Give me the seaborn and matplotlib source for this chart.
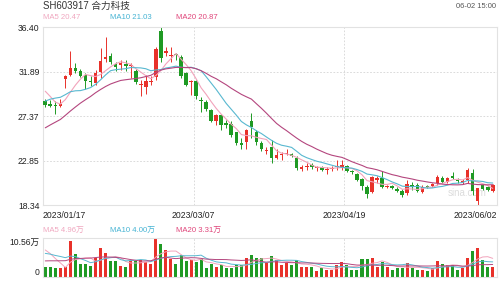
import numpy as np
import pandas as pd
import matplotlib
matplotlib.use("Agg")
import matplotlib.pyplot as plt
import seaborn as sns

# ---------------- data ----------------
title = "SH603917 合力科技"
stamp = "06-02 15:00"
price_ma_labels = ["MA5 20.47", "MA10 21.03", "MA20 20.87"]
vol_ma_labels = ["MA5 4.96万", "MA10 4.00万", "MA20 3.31万"]
date_labels = ["2023/01/17", "2023/03/07", "2023/04/19", "2023/06/02"]
price_ticks = [18.34, 22.85, 27.37, 31.89, 36.40]
price_tick_labels = ["18.34", "22.85", "27.37", "31.89", "36.40"]
vol_tick_labels = ["0", "10.56万"]
vol_max = 10.56
watermark = "sina.com"

opens = [28.87, 28.60, 28.53, 28.45, 31.10, 31.55, 32.25, 32.00, 31.55, 30.90,
         30.75, 31.90, 33.16, 33.50, 32.65, 32.60, 32.70, 32.45, 32.00, 30.50,
         30.35, 30.80, 31.30, 36.00, 33.80, 33.50, 33.65, 33.35, 31.75, 30.80,
         30.95, 29.05, 28.85, 28.00, 26.85, 27.50, 26.70, 26.60, 25.75, 24.65,
         24.80, 26.85, 25.75, 24.65, 23.90, 24.30, 23.15, 23.50, 23.55, 23.60,
         23.15, 22.05, 22.20, 22.45, 22.15, 22.20, 21.90, 22.00, 22.20, 22.25,
         22.35, 21.85, 21.55, 21.00, 20.20, 19.75, 20.95, 21.10, 20.20, 20.30,
         20.05, 19.85, 19.60, 20.45, 20.45, 19.70, 20.30, 20.30, 20.60, 21.15,
         20.75, 21.35, 20.95, 20.65, 20.95, 21.65, 18.80, 20.40, 20.25, 19.80]
highs = [29.14, 29.04, 28.93, 29.10, 31.55, 34.00, 32.75, 32.20, 31.70, 31.40,
         32.05, 34.30, 35.40, 33.80, 32.90, 33.10, 33.10, 32.80, 32.20, 31.00,
         31.50, 31.40, 34.40, 36.40, 34.40, 34.40, 33.80, 33.55, 31.90, 31.00,
         31.05, 29.30, 29.00, 28.15, 27.60, 27.65, 27.00, 26.85, 25.80, 25.15,
         26.10, 27.70, 25.95, 24.90, 24.30, 25.00, 24.10, 23.80, 24.10, 23.70,
         23.30, 22.45, 22.60, 22.60, 22.35, 22.35, 22.20, 22.30, 22.90, 22.95,
         22.45, 21.95, 21.65, 21.10, 20.40, 21.35, 21.35, 21.80, 20.45, 20.45,
         20.25, 20.00, 20.90, 20.75, 20.65, 20.40, 20.40, 20.60, 21.45, 21.30,
         21.25, 21.75, 21.10, 21.00, 22.10, 22.00, 20.15, 20.55, 20.35, 20.55]
lows = [28.33, 28.26, 27.58, 28.30, 30.20, 31.40, 31.74, 31.30, 30.10, 30.40,
        30.55, 31.20, 32.90, 32.70, 32.00, 32.10, 32.00, 31.20, 30.60, 29.45,
        29.60, 30.50, 31.00, 32.90, 33.50, 32.90, 33.10, 31.23, 30.40, 29.50,
        29.10, 27.80, 27.90, 26.80, 26.50, 26.00, 26.20, 25.30, 24.50, 24.05,
        24.05, 25.20, 24.50, 23.90, 23.60, 22.60, 23.00, 22.90, 23.45, 23.20,
        21.95, 21.80, 21.95, 22.00, 21.85, 21.80, 21.55, 21.85, 21.95, 21.95,
        21.70, 21.55, 20.80, 19.95, 19.10, 19.60, 20.60, 20.10, 20.10, 20.00,
        19.75, 19.20, 19.40, 19.95, 19.75, 19.60, 20.10, 20.20, 20.45, 20.60,
        20.60, 21.00, 20.60, 20.50, 20.60, 19.40, 18.34, 19.90, 19.80, 19.70]
closes = [28.53, 28.39, 28.39, 28.60, 31.40, 32.25, 31.97, 31.45, 30.95, 30.80,
          31.80, 33.00, 33.36, 32.90, 32.40, 32.75, 32.50, 32.55, 30.80, 30.60,
          30.95, 30.95, 34.20, 33.30, 33.95, 33.60, 33.55, 31.40, 30.55, 30.90,
          29.45, 28.95, 28.10, 26.85, 27.50, 26.50, 26.45, 25.50, 24.65, 24.50,
          26.00, 26.30, 24.75, 24.05, 24.00, 23.15, 23.45, 23.55, 23.65, 23.30,
          22.10, 22.20, 22.35, 22.20, 22.25, 21.95, 22.00, 22.15, 22.35, 22.45,
          21.80, 21.70, 20.95, 20.35, 19.50, 21.20, 21.10, 20.25, 20.30, 20.10,
          19.85, 19.40, 20.50, 20.20, 19.85, 20.25, 20.20, 20.50, 21.25, 20.75,
          21.10, 21.10, 20.80, 20.85, 21.95, 19.80, 20.10, 20.05, 19.95, 20.45]
volumes = [2.7, 2.7, 2.5, 2.5, 2.9, 9.7, 6.2, 3.5, 3.5, 3.1,
           5.1, 7.7, 6.4, 4.4, 4.4, 3.1, 2.9, 4.4, 4.4, 4.7,
           4.0, 3.5, 10.56, 8.8, 7.3, 4.9, 3.5, 6.0, 4.4, 4.7,
           4.2, 4.9, 2.5, 3.5, 2.9, 3.3, 2.5, 2.5, 3.2, 3.3,
           5.1, 6.0, 5.1, 5.1, 3.8, 5.8, 4.7, 3.2, 3.8, 3.2,
           4.7, 2.9, 2.9, 2.9, 1.8, 2.5, 2.0, 2.0, 3.3, 4.2,
           3.2, 2.0, 2.0, 4.9, 4.9, 5.1, 2.9, 4.2, 2.9, 1.9,
           2.5, 2.6, 3.8, 2.6, 2.0, 2.0, 1.8, 2.5, 4.4, 3.5,
           3.2, 3.2, 2.0, 2.5, 5.1, 7.0, 7.9, 4.7, 2.9, 2.9]
# sessions before the visible window (estimated so the moving averages start where drawn)
pre_closes = [22.5, 22.9, 23.1, 23.0, 23.5, 23.8, 23.6, 24.1, 24.3, 24.2,
              26.4, 27.3, 27.8, 28.7, 29.3, 31.05, 31.25, 29.6, 29.1]
pre_volumes = [2.1, 2.6, 2.3, 2.5, 2.2, 2.7, 2.4, 2.3, 2.5, 2.4,
               4.8, 5.9, 5.2, 6.1, 5.5, 7.5, 9.0, 8.3, 9.0]

# ---------------- style ----------------
sns.set_style("white")
plt.rcParams["font.family"] = ["Liberation Sans", "Noto Sans CJK SC"]

RED, GREEN = "#e8312a", "#1f9a24"
C5, C10, C20 = "#f2a3bb", "#58b8d0", "#b4467e"
T5, T10, T20 = "#f0a8c0", "#45b3d3", "#e0457a"
GRID = "#d4d4d4"
SPINE = "#e2e2e2"

n = len(closes)
df = pd.DataFrame({"i": np.arange(n), "open": opens, "high": highs,
                   "low": lows, "close": closes, "vol": volumes})
npre = len(pre_closes)
allc = pd.Series(pre_closes + closes)
allv = pd.Series(pre_volumes + volumes)
for w in (5, 10, 20):
    df[f"ma{w}"] = allc.rolling(w).mean().iloc[npre:].values
    df[f"vma{w}"] = allv.rolling(w).mean().iloc[npre:].values

up = df["close"] >= df["open"]
colors = np.where(up, RED, GREEN)

fig = plt.figure(figsize=(5, 2.81), dpi=100)
ax = fig.add_axes([0.086, 0.2687, 0.908, 0.635])
axv = fig.add_axes([0.086, 0.0125, 0.908, 0.1416])
XL = (-0.45, 89.85)

# ---- price panel ----
for y in price_ticks[1:-1]:
    ax.axhline(y, color=GRID, lw=0.6, ls=(0, (2, 2)), zorder=0)
for xg in (29.5, 59.5):
    ax.axvline(xg, color=GRID, lw=0.6, ls=(0, (2, 2)), zorder=0)
    axv.axvline(xg, color=GRID, lw=0.6, ls=(0, (2, 2)), zorder=0)

ax.vlines(df["i"], df["low"], df["high"], colors=colors, linewidth=0.7, zorder=2)
body_bottom = np.minimum(df["open"], df["close"])
body_h = np.maximum((df["close"] - df["open"]).abs(), 0.07)
ax.bar(df["i"], body_h, bottom=body_bottom, width=0.72, color=colors,
       linewidth=0, zorder=3)

sns.lineplot(data=df, x="i", y="ma5", ax=ax, color=C5, lw=0.8, zorder=4)
sns.lineplot(data=df, x="i", y="ma10", ax=ax, color=C10, lw=0.8, zorder=4)
sns.lineplot(data=df, x="i", y="ma20", ax=ax, color=C20, lw=0.8, zorder=4)

ax.set_xlim(*XL)
ax.set_ylim(price_ticks[0], price_ticks[-1])
ax.set_yticks(price_ticks)
ax.set_yticklabels(price_tick_labels, fontsize=6.2, color="#222222")
ax.set_xticks([XL[0], 29.5, 59.5, XL[1]])
ax.set_xticklabels(date_labels, fontsize=6.2, color="#222222")
for lab, ha in zip(ax.get_xticklabels(), ["left", "center", "center", "right"]):
    lab.set_ha(ha)
ax.tick_params(length=0, pad=2.5)
ax.tick_params(axis="x", pad=4)
ax.set_xlabel("")
ax.set_ylabel("")
for s in ax.spines.values():
    s.set_color(SPINE)
    s.set_linewidth(0.8)
ax.text(0.978, 0.07, watermark, transform=ax.transAxes, ha="right", va="center",
        fontsize=7, color="#dcdcdc", zorder=1)

# ---- volume panel ----
axv.bar(df["i"], df["vol"], width=0.6, color=colors, linewidth=0, zorder=2)
sns.lineplot(data=df, x="i", y="vma5", ax=axv, color=C5, lw=0.7, zorder=3)
sns.lineplot(data=df, x="i", y="vma10", ax=axv, color=C10, lw=0.7, zorder=3)
sns.lineplot(data=df, x="i", y="vma20", ax=axv, color=C20, lw=0.7, zorder=3)
axv.set_xlim(*XL)
axv.set_ylim(0, vol_max)
axv.set_xticks([])
axv.set_yticks([0, vol_max])
axv.set_yticklabels(vol_tick_labels, fontsize=6.2, color="#222222")
vl = axv.get_yticklabels()
vl[0].set_va("bottom")
vl[1].set_va("top")
axv.tick_params(length=0, pad=2.5)
axv.set_xlabel("")
axv.set_ylabel("")
for s in axv.spines.values():
    s.set_color(SPINE)
    s.set_linewidth(0.8)

# ---- header texts ----
def fy(py):
    return 1 - py / 281.0

fig.text(43 / 500, fy(6), title, fontsize=6.9, color="#333333", va="center", ha="left")
fig.text(496 / 500, fy(6), stamp, fontsize=5.4, color="#555555", va="center", ha="right")
for xpx, txt, col in zip([43, 110, 176], price_ma_labels, [T5, T10, T20]):
    fig.text(xpx / 500, fy(17.7), txt, fontsize=5.6, color=col, va="center", ha="left")
for xpx, txt, col in zip([43, 110, 176], vol_ma_labels, [T5, T10, T20]):
    fig.text(xpx / 500, fy(230.7), txt, fontsize=5.6, color=col, va="center", ha="left")

fig.savefig("out.png", dpi=100)
